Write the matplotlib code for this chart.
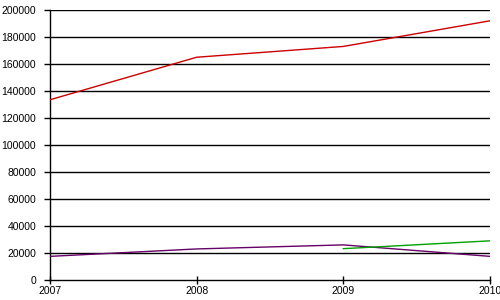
import matplotlib
matplotlib.use("Agg")
import matplotlib.pyplot as plt

years = [2007, 2008, 2009, 2010]
red_vals = [133500, 165000, 173000, 192000]
purple_vals = [17500, 23000, 26000, 17500]
green_years = [2009, 2010]
green_vals = [23200, 29000]

plt.rcParams['font.family'] = ['Liberation Sans', 'DejaVu Sans']

fig = plt.figure(figsize=(5, 3), dpi=100)
ax = fig.add_axes([0.1, 0.0667, 0.88, 0.9])

# horizontal grid
for y in range(20000, 200001, 20000):
    ax.axhline(y, color='black', lw=1.0, zorder=1)

ax.plot(years, red_vals, color='#cc0000', lw=1.0, zorder=3)
ax.plot(years, purple_vals, color='#660066', lw=1.0, zorder=3)
ax.plot(green_years, green_vals, color='#00a000', lw=1.0, zorder=3)

ax.set_xlim(2007, 2010)
ax.set_ylim(0, 200000)
ax.set_xticks(years)
ax.set_xticklabels([str(y) for y in years])
ax.set_yticks(range(0, 200001, 20000))
ax.set_yticklabels([str(y) for y in range(0, 200001, 20000)])

for s in ['top', 'right']:
    ax.spines[s].set_visible(False)
for s in ['left', 'bottom']:
    ax.spines[s].set_linewidth(1.0)
    ax.spines[s].set_color('black')

ax.tick_params(axis='y', direction='out', length=4, width=1, labelsize=7.5, pad=6)
ax.tick_params(axis='x', direction='inout', length=6, width=1, labelsize=7.5, pad=1)

fig.savefig('out.png', dpi=100)
